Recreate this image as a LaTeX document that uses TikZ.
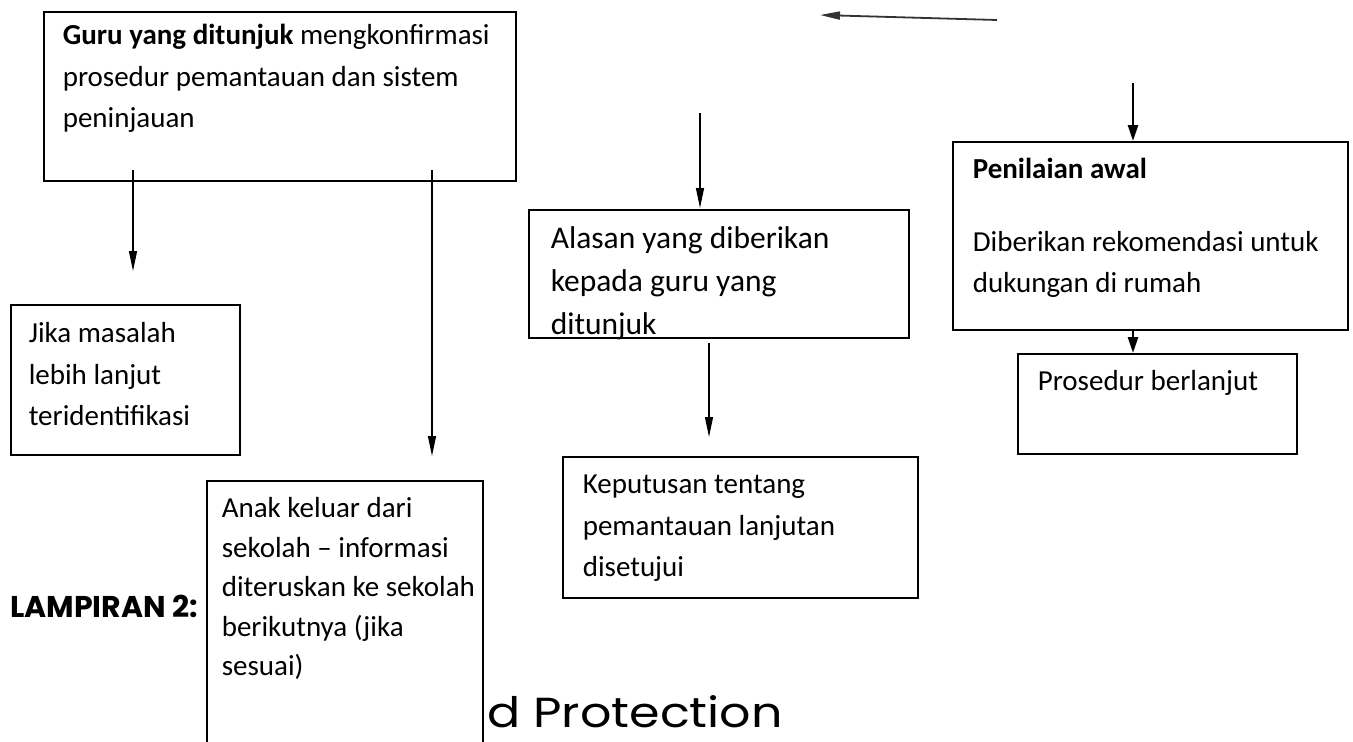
\documentclass[tikz,border=0pt]{standalone}
\usepackage{fontspec}
\usepackage{tikz}
\usetikzlibrary{arrows.meta}
\newfontfamily\boxfont{Carlito}
\newfontfamily\headfont{Poppins}
\newfontfamily\widefont{Poppins}[FakeStretch=1.17]
\tikzset{
  flowbox/.style={draw, line width=1.6pt, anchor=north west, align=flush left, inner xsep=19pt, inner ysep=0pt, text height=37pt, font=\boxfont\fontsize{29}{41.5}\selectfont},
  flowarr/.style={-{Triangle[length=20pt, width=8pt]}, line width=1.3pt},
  heavyarr/.style={-{Triangle[length=16pt, width=10pt]}, line width=2.6pt},
}

\begin{document}
\begin{tikzpicture}[x=1pt, y=-1pt]
\useasboundingbox (0,0) rectangle (1353,742);
\node[flowbox, text width=434pt, text height=33pt, text depth=136pt] (guru) at (43,11) {\textbf{Guru yang ditunjuk} mengkonfirmasi\\prosedur pemantauan dan sistem\\peninjauan};
\node[flowbox, inner xsep=18pt, text width=193pt, text height=38pt, text depth=112pt] (jika) at (10,304) {Jika masalah\\lebih lanjut\\teridentifikasi};
\node[flowbox, inner xsep=15pt, text width=246pt, text depth=253pt, font=\boxfont\fontsize{29}{39.5}\selectfont] (anak) at (206,480) {Anak keluar dari\\sekolah – informasi\\\mbox{diteruskan ke sekolah}\\berikutnya (jika\\sesuai)};
\node[flowbox, inner xsep=22pt, text width=336pt, text height=39pt, text depth=89pt, font=\boxfont\fontsize{31.5}{43}\selectfont] (alasan) at (528,209) {Alasan yang diberikan\\kepada guru yang\\ditunjuk};
\node[flowbox, inner xsep=20pt, text width=315pt, text depth=104pt] (keputusan) at (562,456) {Keputusan tentang\\pemantauan lanjutan\\disetujui};
\node[flowbox, inner xsep=20pt, text width=355pt, text depth=151pt] (penilaian) at (952,141) {\textbf{Penilaian awal}\\[31pt]Diberikan rekomendasi untuk\\dukungan di rumah};
\node[flowbox, inner xsep=20pt, text width=239pt, text depth=63pt] (prosedur) at (1017,353) {Prosedur berlanjut};
\node[anchor=base west, inner xsep=0pt, font=\headfont\bfseries\fontsize{30}{33}\selectfont] (lampiran) at (10,617) {LAMPIRAN 2:};
\node[anchor=base west, inner xsep=0pt, font=\widefont\fontsize{42}{46}\selectfont] (footer) at (487,727) {d Protection};
\coordinate (g1) at (133,170);
\coordinate (j1) at (133,271);
\coordinate (g2) at (432,170);
\coordinate (n1) at (432,456);
\coordinate (s1) at (700,113);
\coordinate (l1) at (700,208);
\coordinate (l2) at (709,343);
\coordinate (k1) at (709,437);
\coordinate (t1) at (997,20);
\coordinate (t2) at (820,15);
\coordinate (s2) at (1133,83);
\coordinate (pc) at (1133,0);
\draw[flowarr] (g1) -- (j1);
\draw[flowarr] (g2) -- (n1);
\draw[flowarr] (s1) -- (l1);
\draw[flowarr] (l2) -- (k1);
\draw[flowarr, line width=1.8pt, draw=black!80] (t1) -- (t2);
\draw[heavyarr] (s2) -- (penilaian.north -| pc);
\draw[heavyarr] (penilaian.south -| pc) -- (prosedur.north -| pc);
\end{tikzpicture}
\end{document}
